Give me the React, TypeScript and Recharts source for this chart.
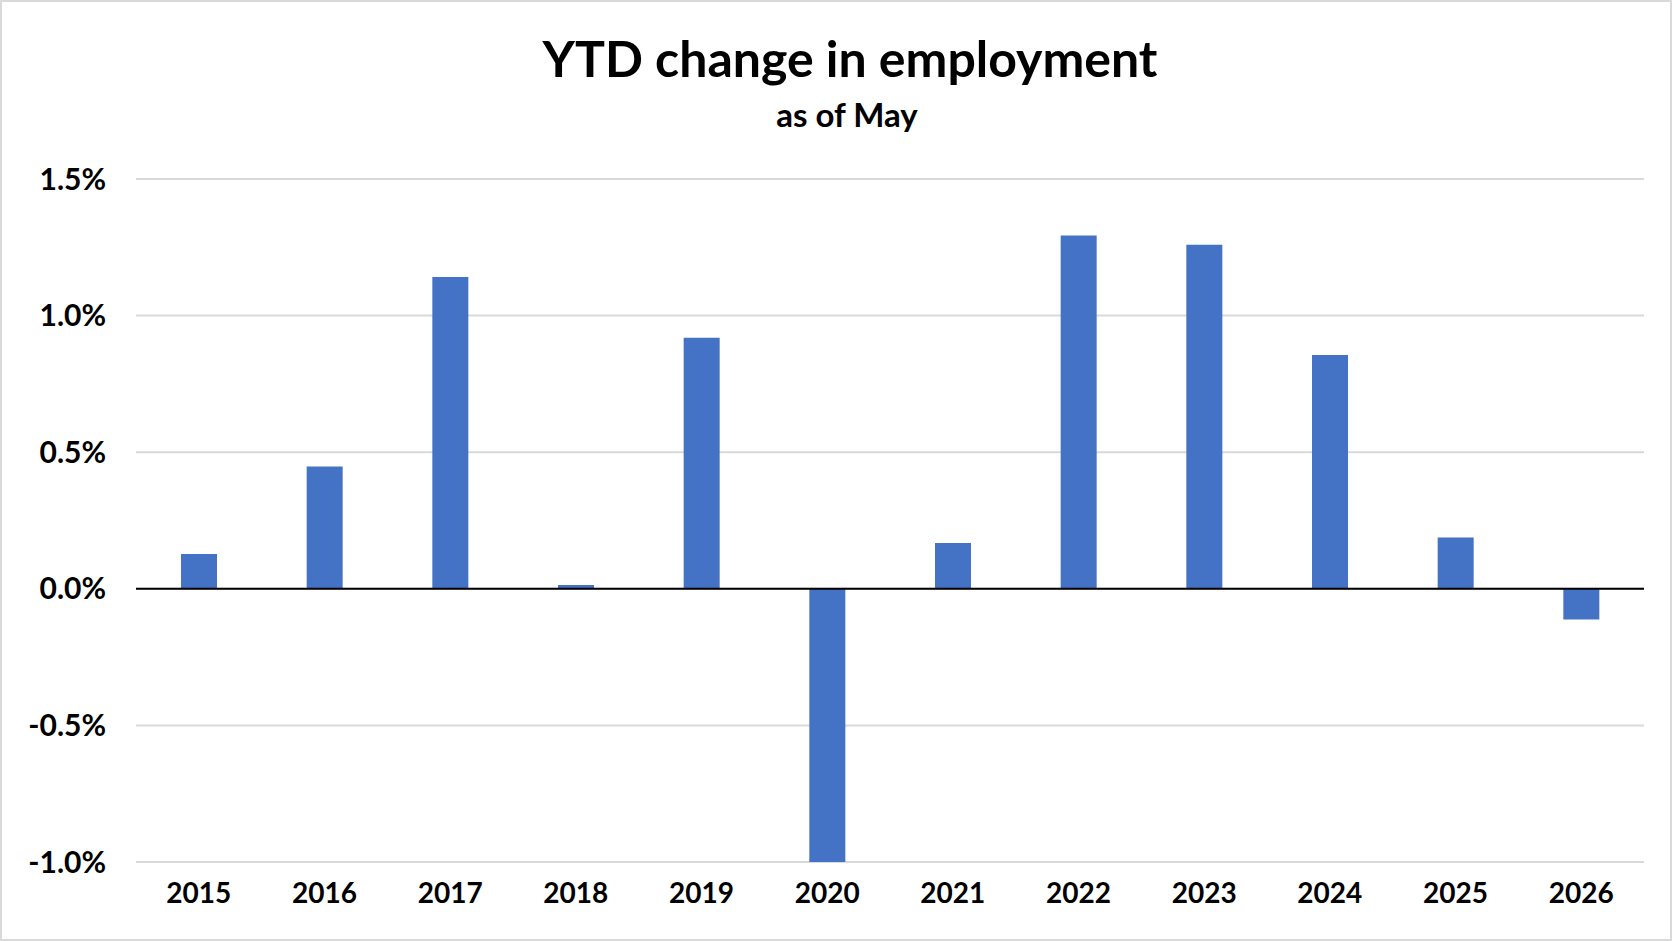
import { Bar, BarChart, CartesianGrid, ReferenceLine, XAxis, YAxis } from "recharts";

// YTD employment change as of May, in percent
const years = ["2015", "2016", "2017", "2018", "2019", "2020", "2021", "2022", "2023", "2024", "2025", "2026"];
const ytdChange = [0.127, 0.448, 1.141, 0.014, 0.919, -1.0, 0.168, 1.293, 1.259, 0.856, 0.188, -0.112];
const yTicks = [-1.0, -0.5, 0, 0.5, 1.0, 1.5];

const FONT = "Lato, 'Noto Sans', sans-serif";
const W = 1672;
const H = 941;

const data = years.map((year, i) => ({ year, value: ytdChange[i] }));

export default function App() {
  return (
    <div style={{ position: "absolute", left: 0, top: 0, width: W, height: H, background: "#fff", fontFamily: FONT }}>
      <div style={{ position: "absolute", left: 0, width: 1700, top: 33, textAlign: "center", fontSize: 50, fontWeight: 700, lineHeight: 1, color: "#000" }}>
        YTD change in employment
      </div>
      <div style={{ position: "absolute", left: 0, width: 1694, top: 98, textAlign: "center", fontSize: 33, fontWeight: 700, lineHeight: 1, color: "#000" }}>
        as of May
      </div>
      <div style={{ position: "absolute", left: 0, top: 0 }}>
        <BarChart width={W} height={H} data={data} margin={{ top: 179, right: 28, bottom: 19, left: 0 }}>
          <CartesianGrid vertical={false} stroke="#d9d9d9" strokeWidth={2} />
          <XAxis
            dataKey="year"
            height={60}
            axisLine={false}
            tickLine={false}
            tickSize={0}
            tickMargin={21}
            tick={{ fill: "#000", fontSize: 28, fontWeight: 700, fontFamily: FONT }}
          />
          <YAxis
            width={136}
            domain={[-1, 1.5]}
            ticks={yTicks}
            axisLine={false}
            tickLine={false}
            tickSize={0}
            tickMargin={30}
            tickFormatter={(v: number) => `${v.toFixed(1)}%`}
            tick={{ fill: "#000", fontSize: 30, fontWeight: 700, fontFamily: FONT }}
          />
          <Bar dataKey="value" fill="#4472c4" barSize={36} isAnimationActive={false} />
          <ReferenceLine y={0} stroke="#000" strokeWidth={2} />
        </BarChart>
      </div>
      <div style={{ position: "absolute", left: 0, top: 0, width: W, height: H, boxSizing: "border-box", border: "2px solid #d9d9d9", pointerEvents: "none" }} />
    </div>
  );
}
